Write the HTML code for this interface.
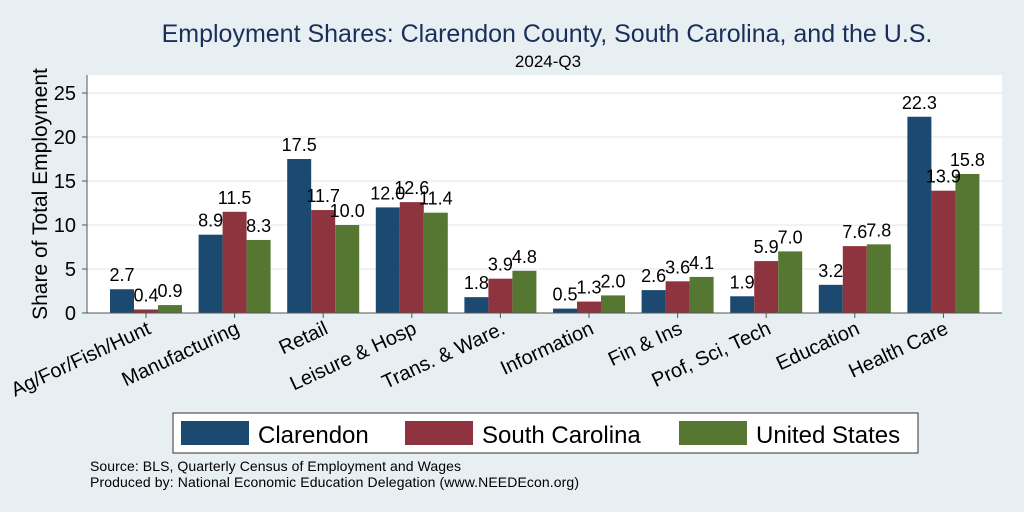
<!DOCTYPE html>
<html><head><meta charset="utf-8"><style>
body{margin:0;background:#e8eff2;}
svg{display:block;font-family:"Liberation Sans",sans-serif;}
</style></head><body>
<svg id="c" width="1024" height="512">
<rect x="0" y="0" width="1024" height="512" fill="#e8eff2"/>
<text x="547" y="42" font-size="25" fill="#1a2e5a" text-anchor="middle">Employment Shares: Clarendon County, South Carolina, and the U.S.</text>
<text x="548" y="67" font-size="17" text-anchor="middle">2024-Q3</text>
<rect x="87" y="75" width="915" height="238" fill="#fff"/>
<g id="grid"></g><g id="bars"></g><g id="labels"></g>
<line x1="87" y1="75" x2="87" y2="313" stroke="#555"/>
<line x1="87" y1="313" x2="1002" y2="313" stroke="#555"/>
<text transform="translate(47,194) rotate(-90)" font-size="21" text-anchor="middle">Share of Total Employment</text>
<g>
<rect x="173" y="413" width="745" height="40" fill="#fff" stroke="#333"/>
<rect x="181" y="421" width="68" height="24" fill="#1c4970"/>
<text x="258" y="443" font-size="24">Clarendon</text>
<rect x="405" y="421" width="68" height="24" fill="#8e343e"/>
<text x="482" y="443" font-size="24">South Carolina</text>
<rect x="679" y="421" width="68" height="24" fill="#557732"/>
<text x="756" y="443" font-size="24">United States</text>
</g>
<text x="90" y="471" font-size="14" textLength="371">Source: BLS, Quarterly Census of Employment and Wages</text>
<text x="90" y="487" font-size="14" textLength="489">Produced by: National Economic Education Delegation (www.NEEDEcon.org)</text>
</svg>
<script>
const categories=["Ag/For/Fish/Hunt","Manufacturing","Retail","Leisure & Hosp","Trans. & Ware.","Information","Fin & Ins","Prof, Sci, Tech","Education","Health Care"];
const clarendon=[2.7,8.9,17.5,12.0,1.8,0.5,2.6,1.9,3.2,22.3];
const southCarolina=[0.4,11.5,11.7,12.6,3.9,1.3,3.6,5.9,7.6,13.9];
const unitedStates=[0.9,8.3,10.0,11.4,4.8,2.0,4.1,7.0,7.8,15.8];
const yTicks=[0,5,10,15,20,25];
const seriesNames=["clarendon","south-carolina","united-states"];
const NS="http://www.w3.org/2000/svg";
const y0=313,pxPer=8.8,gx0=146,gStep=88.6,bw=24;
const y=v=>y0-v*pxPer;
const x=i=>gx0+i*gStep;
const colors=["#1c4970","#8e343e","#557732"];
const series=[clarendon,southCarolina,unitedStates];
function mk(tag,attrs,parent){const e=document.createElementNS(NS,tag);for(const k in attrs)e.setAttribute(k,attrs[k]);document.getElementById(parent).appendChild(e);return e;}
yTicks.forEach(t=>{
 if(t>0){const g=mk('line',{x1:87,x2:1002,y1:y(t),y2:y(t),stroke:'#e8eff2','stroke-width':1.5},'grid');
 
 }
 const tk=mk('line',{x1:82,x2:87,y1:y(t),y2:y(t),stroke:'#555'},'grid');
 
 
 const tl=mk('text',{x:76,y:y(t)+7,'font-size':20,'text-anchor':'end'},'labels');
 tl.textContent=t;
 
 
});
categories.forEach((c,i)=>{
 series.forEach((s,j)=>{
  const bx=x(i)-36+j*bw;
  const r=mk('rect',{x:bx,y:y(s[i]),width:bw,height:s[i]*pxPer,fill:colors[j]},'bars');
  
  
  const v=mk('text',{x:bx+bw/2,y:y(s[i])-8,'font-size':18,'text-anchor':'middle'},'labels');
  v.textContent=s[i].toFixed(1);
  
  
 });
 const tk=mk('line',{x1:x(i),x2:x(i),y1:313,y2:318,stroke:'#555'},'grid');
 
 
 const l=mk('text',{x:0,y:0,'font-size':20,'text-anchor':'end',transform:`translate(${x(i)+6},${333}) rotate(-25)`},'labels');
 l.textContent=c;
 
 
});
</script>
</body></html>
